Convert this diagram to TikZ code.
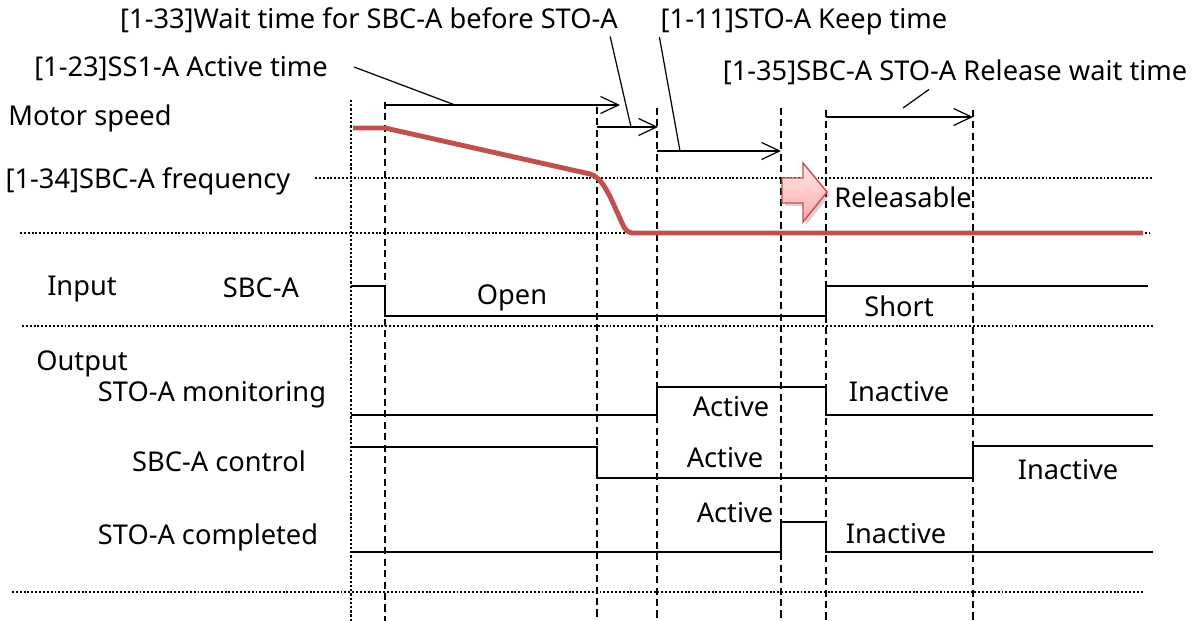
\documentclass[tikz,border=0pt]{standalone}
\usepackage{fontspec}
\setmainfont{Noto Sans}
\usetikzlibrary{arrows.meta,shadows}
\definecolor{speedred}{HTML}{C0504D}

\begin{document}
\begin{tikzpicture}[
  x=0.02cm, y=-0.02cm,
  font=\fontsize{15.5}{18}\selectfont,
  txt/.style={inner sep=0pt, text height=0.92em, text depth=0pt},
  timing/.style={-{Straight Barb[length=3.6mm, width=3.4mm]}, line width=0.7pt},
  leader/.style={line width=0.7pt},
  marker/.style={dash pattern=on 4pt off 2.5pt, line width=0.9pt},
  origin/.style={dash pattern=on 1.3pt off 1.1pt, line width=1.6pt},
  gridline/.style={dash pattern=on 1.1pt off 1.1pt, line width=1.1pt},
  signal/.style={line width=1pt},
  speed/.style={draw=speedred, line width=2.8pt, line join=round},
  release/.style={draw=speedred, line width=0.8pt, top color=red!8, bottom color=red!35, drop shadow={opacity=0.35, shadow xshift=0.6mm, shadow yshift=-0.6mm}}
]
\useasboundingbox (0,0) rectangle (1195,621);

% grid
\foreach \y/\a/\b in {178/315/1153, 233/20/1150, 326/22/1153, 592/12/1143}
  \draw[gridline] (\a,\y) -- (\b,\y);
\draw[origin] (351,100) -- (351,621);
\foreach \x/\t in {385/102, 597/107, 657/108, 781/108, 826/110, 973/110}
  \draw[marker] (\x,\t) -- (\x,621);

% row labels
\node[txt] (speedlbl) at (90,117) {Motor speed};
\node[txt] (freqlbl) at (148,180) {[1-34]SBC-A frequency};
\node[txt] (inlbl) at (82,287) {Input};
\node[txt] (sbclbl) at (261,289) {SBC-A};
\node[txt] (outlbl) at (82,362) {Output};
\node[txt] (monlbl) at (212,393) {STO-A monitoring};
\node[txt] (ctrllbl) at (219,463) {SBC-A control};
\node[txt] (complbl) at (208,536) {STO-A completed};

% parameter labels
\node[txt] (waitsbc) at (369,20) {[1-33]Wait time for SBC-A before STO-A};
\node[txt] (keep) at (804,20) {[1-11]STO-A Keep time};
\node[txt] (ssone) at (181,68) {[1-23]SS1-A Active time};
\node[txt] (relwait) at (955,72) {[1-35]SBC-A STO-A Release wait time};

% timing arrows
\coordinate (t1a) at (385,105); \coordinate (t1b) at (620,105);
\coordinate (t2a) at (597,127); \coordinate (t2b) at (658,127);
\coordinate (t3a) at (657,151); \coordinate (t3b) at (781,151);
\coordinate (t4a) at (826,117); \coordinate (t4b) at (973,117);
\draw[timing] (t1a) -- (t1b);
\draw[timing] (t2a) -- (t2b);
\draw[timing] (t3a) -- (t3b);
\draw[timing] (t4a) -- (t4b);
\coordinate (ssonehit) at (455,105);
\coordinate (waithit) at (631,127);
\coordinate (keephit) at (680,151);
\coordinate (relhit) at (903,108);
\draw[leader] ([xshift=5.2mm, yshift=0.2mm]ssone.east) -- (ssonehit);
\draw[leader] ([xshift=-1.6mm, yshift=-1.6mm]waitsbc.south east) -- (waithit);
\draw[leader] ([xshift=-0.2mm, yshift=-1.7mm]keep.south west) -- (keephit);
\draw[leader] ([xshift=-5.2mm, yshift=-1.8mm]relwait.south) -- (relhit);

% motor speed
\draw[speed] (353,128) -- (385,128) -- (590,174)
  .. controls (600,177) and (606,188) .. (613,203)
  -- (622,223) .. controls (626,231) .. (632,233) -- (1143,233);
\draw[release] (782,178) -- (803,178) -- (803,163) -- (827,192)
  -- (803,222) -- (803,203) -- (782,203) -- cycle;
\node[txt] (rel) at (903,199) {Releasable};

% input
\draw[signal] (351,286) -- (385,286) -- (385,316) -- (826,316) -- (826,286) -- (1148,286);
\node[txt] (open) at (512,296) {Open};
\node[txt] (short) at (899,308) {Short};

% outputs
\draw[signal] (351,415) -- (657,415) -- (657,387) -- (826,387) -- (826,415) -- (1153,415);
\draw[signal] (351,447) -- (597,447) -- (597,478) -- (973,478) -- (973,446) -- (1153,446);
\draw[signal] (351,552) -- (781,552) -- (781,522) -- (826,522) -- (826,552) -- (1153,552);
\node[txt] (monon) at (731,408) {Active};
\node[txt] (monoff) at (899,393) {Inactive};
\node[txt] (ctrlon) at (725,459) {Active};
\node[txt] (ctrloff) at (1068,471) {Inactive};
\node[txt] (compon) at (735,514) {Active};
\node[txt] (compoff) at (896,535) {Inactive};
\end{tikzpicture}
\end{document}
